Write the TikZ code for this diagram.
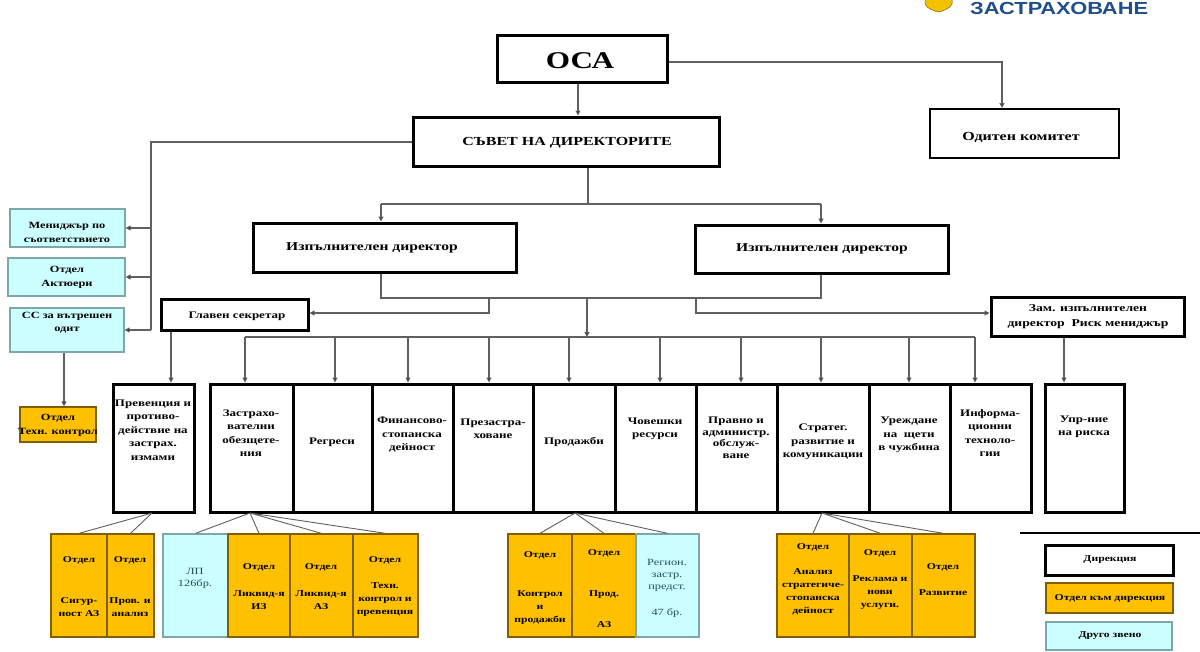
\documentclass[tikz,border=0pt]{standalone}
\usepackage{fontspec}
\setmainfont{Liberation Serif}[FakeStretch=1.3]
\newfontfamily\logofont{Liberation Sans}[FakeStretch=1.25]
\usetikzlibrary{arrows.meta}
\definecolor{orng}{HTML}{FFC000}
\definecolor{orbd}{HTML}{7F6000}
\definecolor{cyn}{HTML}{CCFFFF}
\definecolor{cybd}{HTML}{7FA7A7}
\definecolor{cytx}{HTML}{1F4E5F}
\definecolor{conn}{HTML}{606060}
\definecolor{logob}{HTML}{1F4E8C}
\definecolor{logoy}{HTML}{F2C200}
\newcommand\bx[6]{\node[#6, minimum width={(#4-#2)*1pt}, minimum height={(#5-#3)*1pt}] (#1) at ({(#2+#4)/2},{(#3+#5)/2}) {};}
\newcommand\tx[5]{\node[#4] (#1) at (#2,#3) {#5};}
\begin{document}
\begin{tikzpicture}[x=1pt,y=-1pt,
  wbox/.style={draw=black, line width=3pt, fill=white, inner sep=0pt},
  mbox/.style={draw=black, line width=2pt, fill=white, inner sep=0pt},
  obox/.style={draw=orbd, line width=1.3pt, fill=orng, inner sep=0pt},
  cbox/.style={draw=cybd, line width=1.3pt, fill=cyn, inner sep=0pt},
  ln/.style={draw=conn, line width=1.1pt},
  fan/.style={draw=conn, line width=0.9pt},
  arr/.style={draw=conn, line width=1.1pt, -{Triangle[length=5pt,width=5pt,fill=black]}},
  ttx/.style={inner sep=0pt, align=center, font=\bfseries\fontsize{10}{13.5}\selectfont},
  btx/.style={inner sep=0pt, align=center, font=\bfseries\fontsize{9}{13}\selectfont},
  ctx/.style={inner sep=0pt, align=center, text=cytx, font=\fontsize{9.5}{12}\selectfont},
]
\useasboundingbox (0,0) rectangle (1200,651);
\fill[white] (0,0) rectangle (1200,651);

% logo
\fill[logoy, draw=orbd, line width=0.5pt] (925,-6) -- (952,-6) -- (952,4) .. controls (950,9) and (942,11) .. (938.5,12) .. controls (935,11) and (927,9) .. (925,4) -- cycle;
\node[anchor=base west, inner sep=0pt, text=logob, font=\logofont\bfseries\fontsize{17.5}{18}\selectfont] (logo) at (970,14) {ЗАСТРАХОВАНЕ};

% top boxes
\bx{osa}{497}{35}{667}{82}{wbox}
\tx{osat}{580}{61}{ttx, font=\bfseries\fontsize{24}{26}\selectfont}{ОСА}
\bx{sovet}{413}{117}{719}{166}{wbox}
\tx{sovett}{567}{143}{ttx, font=\bfseries\fontsize{12.3}{14}\selectfont}{СЪВЕТ НА ДИРЕКТОРИТЕ}
\bx{odit}{930}{109}{1119}{158}{mbox}
\tx{oditt}{1021}{137}{ttx, font=\bfseries\fontsize{12.3}{14}\selectfont}{Одитен комитет}

% left cyan boxes
\bx{mgr}{10}{209}{125}{247}{cbox}
\tx{mgrt}{67}{232}{ttx, font=\bfseries\fontsize{9.5}{14}\selectfont}{Мениджър по\\съответствието}
\bx{akt}{8}{258}{125}{296}{cbox}
\tx{aktt}{67}{277}{ttx, font=\bfseries\fontsize{9.5}{14}\selectfont}{Отдел\\Актюери}
\bx{ss}{10}{308}{124}{352}{cbox}
\tx{sst}{67}{323}{ttx, font=\bfseries\fontsize{9.5}{13}\selectfont}{СС за вътрешен\\одит}
\bx{tk}{20}{407}{96}{442}{obox}
\tx{tkt}{58}{425}{ttx, font=\bfseries\fontsize{9.5}{14}\selectfont}{Отдел\\Техн. контрол}

% executive directors
\bx{idl}{253}{223}{516}{272}{wbox}
\tx{idlt}{372}{248}{ttx, font=\bfseries\fontsize{12}{14}\selectfont}{Изпълнителен директор}
\bx{idr}{695}{225}{948}{273}{wbox}
\tx{idrt}{822}{249}{ttx, font=\bfseries\fontsize{12}{14}\selectfont}{Изпълнителен директор}
\bx{glsec}{161}{299}{308}{330}{wbox}
\tx{glsect}{237}{316}{ttx, font=\bfseries\fontsize{10}{12}\selectfont}{Главен секретар}
\bx{zam}{991}{297}{1184}{336}{wbox}
\tx{zamt}{1088}{317}{ttx, font=\bfseries\fontsize{10.5}{15}\selectfont}{Зам. изпълнителен\\директор~ Риск мениджър}

% departments
\bx{prev}{113}{384}{194}{512}{wbox}
\bx{zast}{210}{384}{293}{512}{wbox}
\bx{regr}{293}{384}{372}{512}{wbox}
\bx{fin}{372}{384}{453}{512}{wbox}
\bx{prez}{453}{384}{533}{512}{wbox}
\bx{prod}{533}{384}{615}{512}{wbox}
\bx{chov}{615}{384}{696}{512}{wbox}
\bx{prav}{696}{384}{777}{512}{wbox}
\bx{strat}{777}{384}{869}{512}{wbox}
\bx{ured}{869}{384}{950}{512}{wbox}
\bx{info}{950}{384}{1031}{512}{wbox}
\bx{upr}{1045}{384}{1124}{512}{wbox}
\tx{prevt}{153}{430}{ttx}{Превенция и\\противо-\\действие на\\застрах.\\измами}
\tx{zastt}{251}{433}{ttx}{Застрахо-\\вателни\\обезщете-\\ния}
\tx{regrt}{332}{442}{ttx}{Регреси}
\tx{fint}{412}{435}{ttx}{Финансово-\\стопанска\\дейност}
\tx{prezt}{493}{429}{ttx}{Презастра-\\ховане}
\tx{prodt}{574}{442}{ttx}{Продажби}
\tx{chovt}{655}{429}{ttx}{Човешки\\ресурси}
\tx{pravt}{736}{438}{ttx, font=\bfseries\fontsize{10}{11.5}\selectfont}{Правно и\\администр.\\обслуж-\\ване}
\tx{stratt}{823}{442}{ttx}{Стратег.\\развитие и\\комуникации}
\tx{uredt}{909}{435}{ttx}{Уреждане\\на~ щети\\в чужбина}
\tx{infot}{990}{433}{ttx}{Информа-\\ционни\\техноло-\\гии}
\tx{uprt}{1084}{427}{ttx}{Упр-ние\\на риска}

% bottom boxes
\bx{sig}{51}{534}{107}{637}{obox}
\bx{prov}{107}{534}{154}{637}{obox}
\bx{lp}{163}{534}{228}{637}{cbox}
\bx{liz}{228}{534}{290}{637}{obox}
\bx{laz}{290}{534}{353}{637}{obox}
\bx{tkp}{353}{534}{418}{637}{obox}
\bx{kp}{508}{534}{572}{637}{obox}
\bx{paz}{572}{534}{636}{637}{obox}
\bx{reg}{636}{534}{699}{637}{cbox}
\bx{adm}{777}{534}{849}{637}{obox}
\bx{rek}{849}{534}{912}{637}{obox}
\bx{raz}{912}{534}{975}{637}{obox}

\tx{sig1}{79}{560}{btx}{Отдел}
\tx{sig2}{79}{607}{btx}{Сигур-\\ност АЗ}
\tx{prov1}{130}{560}{btx}{Отдел}
\tx{prov2}{130}{607}{btx}{Пров. и\\анализ}
\tx{lp1}{195}{578}{ctx}{ЛП\\126бр.}
\tx{liz1}{259}{567}{btx}{Отдел}
\tx{liz2}{259}{600}{btx}{Ликвид-я\\ИЗ}
\tx{laz1}{321}{567}{btx}{Отдел}
\tx{laz2}{321}{600}{btx}{Ликвид-я\\АЗ}
\tx{tkp1}{385}{560}{btx}{Отдел}
\tx{tkp2}{385}{600}{btx}{Техн.\\контрол и\\превенция}
\tx{kp1}{540}{555}{btx}{Отдел}
\tx{kp2}{540}{608}{btx}{Контрол\\и\\продажби}
\tx{paz1}{604}{553}{btx}{Отдел}
\tx{paz2}{604}{595}{btx}{Прод.}
\tx{paz3}{604}{625}{btx}{АЗ}
\tx{reg1}{667}{575}{ctx}{Регион.\\застр.\\предст.}
\tx{reg2}{667}{613}{ctx}{47 бр.}
\tx{adm1}{813}{547}{btx}{Отдел}
\tx{adm2}{813}{592}{btx}{Анализ\\стратегиче-\\стопанска\\дейност}
\tx{rek1}{880}{553}{btx}{Отдел}
\tx{rek2}{880}{593}{btx}{Реклама и\\нови\\услуги.}
\tx{raz1}{943}{567}{btx}{Отдел}
\tx{raz2}{943}{593}{btx}{Развитие}

% legend
\coordinate (lg1) at (1020,533);
\coordinate (lg2) at (1200,533);
\draw[line width=2pt] (lg1) -- (lg2);
\bx{ldir}{1045}{545}{1173}{575}{wbox}
\tx{ldirt}{1110}{560}{ttx, font=\bfseries\fontsize{9}{11}\selectfont}{Дирекция}
\bx{lotd}{1046}{583}{1173}{613}{obox}
\tx{lotdt}{1110}{598}{ttx, font=\bfseries\fontsize{9}{11}\selectfont}{Отдел към дирекция}
\bx{ldr}{1046}{622}{1172}{650}{cbox}
\tx{ldrt}{1110}{636}{ttx, font=\bfseries\fontsize{9}{11}\selectfont}{Друго звено}

% connectors
\coordinate (os) at (578,100);
\draw[arr] (osa.south -| os) -- (sovet.north -| os);
\coordinate (oc) at (1002,62);
\draw[arr] (osa.east |- oc) -- (oc) -- (oc |- odit.north);

\coordinate (sl) at (151,142);
\coordinate (sle) at (151,330);
\draw[ln] (sovet.west |- sl) -- (sl) -- (sle);
\draw[arr] (sl |- mgr.east) -- (mgr.east);
\draw[arr] (sl |- akt.east) -- (akt.east);
\draw[arr] (sle) -- (sle -| ss.east);

\coordinate (sb) at (588,204);
\coordinate (bL) at (381,204);
\coordinate (bR) at (821,204);
\draw[ln] (sovet.south -| sb) -- (sb);
\draw[ln] (bL) -- (bR);
\draw[arr] (bL) -- (bL |- idl.north);
\draw[arr] (bR) -- (bR |- idr.north);

\coordinate (cL) at (381,298);
\coordinate (cR) at (821,298);
\draw[ln] (idl.south -| cL) -- (cL) -- (cR) -- (idr.south -| cR);
\coordinate (gs1) at (489,298);
\coordinate (gs2) at (489,313);
\draw[arr] (gs1) -- (gs2) -- (gs2 -| glsec.east);
\coordinate (zm1) at (696,298);
\coordinate (zm2) at (696,313);
\draw[arr] (zm1) -- (zm2) -- (zm2 -| zam.west);
\coordinate (m1) at (587,298);
\coordinate (m2) at (587,337);
\draw[arr] (m1) -- (m2);
\coordinate (busL) at (245,337);
\coordinate (busR) at (975,337);
\draw[ln] (busL) -- (busR);
\foreach \n/\xx in {zast/245, regr/335, fin/408, prez/489, prod/569, chov/660, prav/741, strat/821, ured/909, info/975}{
  \coordinate (t) at (\xx,337);
  \draw[arr] (t) -- (t |- \n.north);
}
\coordinate (g3) at (171,330);
\draw[arr] (glsec.south -| g3) -- (prev.north -| g3);
\coordinate (s3) at (64,352);
\draw[arr] (ss.south -| s3) -- (tk.north -| s3);
\coordinate (z3) at (1064,336);
\draw[arr] (zam.south -| z3) -- (upr.north -| z3);

% fan-out lines
\coordinate (f1) at (152,513);
\coordinate (f2) at (250,513);
\coordinate (f3) at (575,513);
\coordinate (f4) at (822,513);
\draw[fan] (f1) -- (sig.north) (f1) -- (prov.north);
\draw[fan] (f2) -- (lp.north) (f2) -- (liz.north) (f2) -- (laz.north) (f2) -- (tkp.north);
\draw[fan] (f3) -- (kp.north) (f3) -- (paz.north) (f3) -- (reg.north);
\draw[fan] (f4) -- (adm.north) (f4) -- (rek.north) (f4) -- (raz.north);
\end{tikzpicture}
\end{document}
